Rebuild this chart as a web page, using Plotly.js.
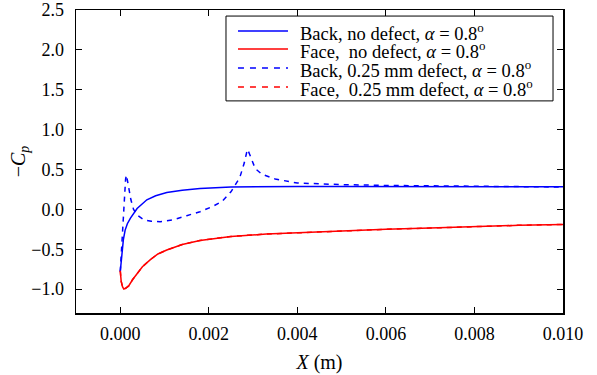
<!DOCTYPE html>
<html>
<head>
<meta charset="utf-8">
<script src="https://cdn.plot.ly/plotly-3.0.1.min.js"></script>
<style>html,body{margin:0;padding:0;background:#fff;}#chart{width:597px;height:375px;}</style>
</head>
<body>
<div id="chart"></div>
<script>
// Back, no defect
var backX = [0, 0.00002, 0.00004, 0.00007, 0.00011, 0.00016, 0.00023, 0.0003, 0.00038, 0.0005, 0.0006, 0.0008, 0.00105, 0.0014, 0.0018, 0.0025, 0.0032, 0.004, 0.005, 0.006, 0.007, 0.008, 0.009, 0.010];
var backY = [-0.78, -0.68, -0.52, -0.38, -0.26, -0.18, -0.11, -0.05, 0.01, 0.07, 0.12, 0.17, 0.21, 0.24, 0.26, 0.28, 0.285, 0.287, 0.287, 0.286, 0.285, 0.284, 0.283, 0.282];
// Face, no defect
var faceX = [0, 0.00002, 0.00005, 0.00008, 0.00012, 0.00019, 0.00028, 0.00038, 0.0005, 0.00068, 0.00085, 0.00105, 0.0014, 0.0018, 0.0025, 0.0033, 0.0041, 0.005, 0.006, 0.007, 0.0075, 0.008, 0.009, 0.010];
var faceY = [-0.77, -0.9, -0.97, -1.0, -0.99, -0.96, -0.88, -0.8, -0.72, -0.63, -0.56, -0.51, -0.44, -0.39, -0.34, -0.31, -0.29, -0.27, -0.25, -0.235, -0.225, -0.215, -0.2, -0.19];
// Back, 0.25 mm defect
var backDefX = [0, 0.00003, 0.00006, 0.00009, 0.00012, 0.00014, 0.00018, 0.00024, 0.0003, 0.0004, 0.00053, 0.0007, 0.0009, 0.0012, 0.0015, 0.0018, 0.0021, 0.0023, 0.0025, 0.0027, 0.0028, 0.00287, 0.0029, 0.00305, 0.0032, 0.0035, 0.004, 0.0045, 0.005, 0.006, 0.007, 0.008, 0.009, 0.010];
var backDefY = [-0.78, -0.5, -0.15, 0.15, 0.38, 0.43, 0.3, 0.12, 0.0, -0.08, -0.13, -0.15, -0.155, -0.13, -0.08, -0.03, 0.04, 0.1, 0.22, 0.4, 0.58, 0.75, 0.72, 0.51, 0.44, 0.38, 0.33, 0.32, 0.31, 0.3, 0.295, 0.29, 0.285, 0.28];
// Face, 0.25 mm defect
var faceDefX = [0, 0.00002, 0.00005, 0.00008, 0.00012, 0.00019, 0.00028, 0.00038, 0.0005, 0.00068, 0.00085, 0.00105, 0.0014, 0.0018, 0.0025, 0.0033, 0.0041, 0.005, 0.006, 0.007, 0.0075, 0.008, 0.009, 0.010];
var faceDefY = [-0.77, -0.9, -0.97, -1.0, -0.99, -0.96, -0.88, -0.8, -0.72, -0.63, -0.56, -0.51, -0.44, -0.39, -0.34, -0.31, -0.29, -0.27, -0.25, -0.235, -0.225, -0.215, -0.2, -0.19];

var xRange = [-0.001, 0.010];
var yRange = [-1.3, 2.5];

var names = [
  'Back, no defect, <i>α</i> = 0.8<sup>o</sup>',
  'Face,&nbsp; no defect, <i>α</i> = 0.8<sup>o</sup>',
  'Back, 0.25 mm defect, <i>α</i> = 0.8<sup>o</sup>',
  'Face,&nbsp; 0.25 mm defect, <i>α</i> = 0.8<sup>o</sup>'
];
var colors = ['#0000ff', '#ff0000', '#0000ff', '#ff0000'];
var dashes = ['solid', 'solid', '5px,5px', '5px,5px'];

var font = 'Times New Roman';

var xs = [backX, faceX, backDefX, faceDefX];
var ys = [backY, faceY, backDefY, faceDefY];
var traces = xs.map(function (x, i) {
  var t = {x: x, y: ys[i], name: names[i], mode: 'lines', showlegend: false,
           line: {color: colors[i], width: 1.5, dash: dashes[i]}};
  if (i === 3) { t.xaxis = 'x2'; t.yaxis = 'y2'; }
  return t;
});

// Framed legend drawn in paper coordinates
var legX0 = 0.308, legX1 = 0.9795, legY0 = 0.70, legY1 = 0.98;
var rowY = [0.9307, 0.8713, 0.8086, 0.7459];
var shapes = [{type: 'rect', xref: 'paper', yref: 'paper', x0: legX0, x1: legX1, y0: legY0, y1: legY1,
               line: {color: '#000', width: 1}, fillcolor: '#fff', layer: 'above'}];
var annotations = [];
rowY.forEach(function (y, i) {
  shapes.push({type: 'line', xref: 'paper', yref: 'paper', x0: 0.3326, x1: 0.4353, y0: y, y1: y,
               line: {color: colors[i], width: 1.5, dash: dashes[i] === 'solid' ? 'solid' : '6px,6px'}, layer: 'above'});
  annotations.push({xref: 'paper', yref: 'paper', x: 0.456, y: y - 0.004, xanchor: 'left', yanchor: 'middle',
                    text: names[i], showarrow: false, font: {family: font, size: 18.5, color: '#000'}});
});

var layout = {
  width: 597, height: 375,
  margin: {l: 76, r: 34, t: 10, b: 62},
  paper_bgcolor: '#fff', plot_bgcolor: '#fff',
  font: {family: font, size: 18, color: '#000'},
  showlegend: false,
  shapes: shapes,
  annotations: annotations,
  // label-bearing axes: transparent outside ticks give the labels their gap
  xaxis: {
    range: xRange, dtick: 0.002, tick0: 0, tickformat: '.3f',
    ticks: 'outside', ticklen: 4, tickcolor: 'rgba(0,0,0,0)',
    showline: true, linecolor: '#000', linewidth: 1.5, mirror: true,
    showgrid: false, zeroline: false,
    title: {text: '<i>X</i> (m)', font: {family: font, size: 20}, standoff: 12}
  },
  yaxis: {
    range: yRange, dtick: 0.5, tick0: 0, tickformat: '.1f',
    ticks: 'outside', ticklen: 7, tickcolor: 'rgba(0,0,0,0)',
    showline: true, linecolor: '#000', linewidth: 1.5, mirror: true,
    showgrid: false, zeroline: false,
    title: {text: '−<i>C</i><sub><i>p</i></sub>', font: {family: font, size: 20}, standoff: 0}
  },
  // overlay axes carrying the visible inside ticks on all four sides
  xaxis2: {
    overlaying: 'x', anchor: 'y2', side: 'bottom',
    range: xRange, dtick: 0.002, tick0: 0,
    ticks: 'inside', ticklen: 6, tickwidth: 1, tickcolor: '#000', showticklabels: false,
    showline: true, linecolor: '#000', linewidth: 1.5, mirror: 'ticks',
    showgrid: false, zeroline: false
  },
  yaxis2: {
    overlaying: 'y', anchor: 'x2', side: 'left',
    range: yRange, dtick: 0.5, tick0: 0,
    ticks: 'inside', ticklen: 6, tickwidth: 1, tickcolor: '#000', showticklabels: false,
    showline: true, linecolor: '#000', linewidth: 1.5, mirror: 'ticks',
    showgrid: false, zeroline: false
  }
};

Plotly.newPlot('chart', traces, layout, {displayModeBar: false, staticPlot: true});
</script>
</body>
</html>
